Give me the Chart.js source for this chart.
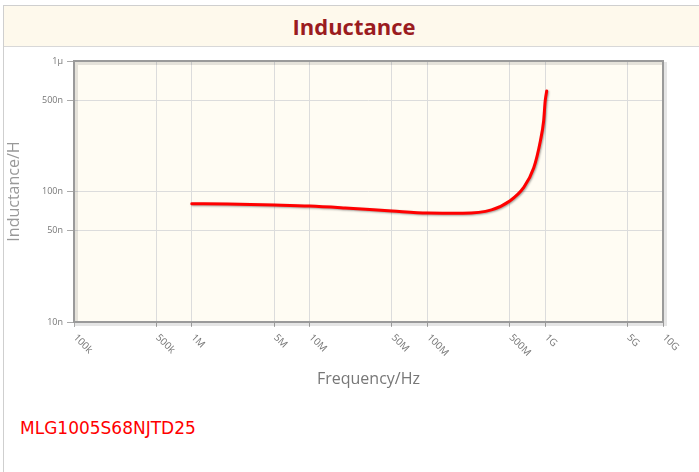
<!DOCTYPE html>
<html>
<head>
<meta charset="utf-8">
<script src="https://cdn.jsdelivr.net/npm/chart.js@4/dist/chart.umd.min.js"></script>
<style>
  body { margin: 0; background: #fff; width: 699px; height: 472px; overflow: hidden; }
  .painel {
    position: absolute; left: 3px; top: 5px; width: 700px; height: 470px;
    border-left: 1px solid #cfcfcf; border-top: 1px solid #cfcfcf;
  }
  .cabecalho {
    height: 40px; background: #fef9ec; border-bottom: 1px solid #d8d8d8;
    text-align: center; font: bold 22px "Open Sans", sans-serif; color: #9b1c1f;
    line-height: 40px;
  }
  #grafico { position: absolute; left: 1px; top: 43px; }
  .legenda {
    position: absolute; left: 16px; top: 412px;
    font: 17px "DejaVu Sans", sans-serif; color: #ff0000;
  }
</style>
</head>
<body>
<div class="painel">
  <div class="cabecalho">Inductance</div>
  <canvas id="grafico" width="695" height="352"></canvas>
  <div class="legenda">MLG1005S68NJTD25</div>
</div>
<script>
// dados (frequencia em Hz, indutancia em nH)
const frequencias = [1e6, 2e6, 5e6, 1e7, 2e7, 5e7, 1e8, 2e8, 3.5e8, 5e8, 6.5e8, 8e8, 9.1e8, 9.7e8, 1e9, 1.03e9];
const indutancias = [80.6, 80.2, 78.8, 77.4, 74.8, 70.9, 68.4, 68.1, 72.3, 84.6, 106, 152, 244, 347, 494, 590];
const nomeSerie = "MLG1005S68NJTD25";

const ticksX = [1e5, 5e5, 1e6, 5e6, 1e7, 5e7, 1e8, 5e8, 1e9, 5e9, 1e10];
const rotulosX = ["100k", "500k", "1M", "5M", "10M", "50M", "100M", "500M", "1G", "5G", "10G"];
const ticksY = [10, 50, 100, 500, 1000];
const rotulosY = ["10n", "50n", "100n", "500n", "1\u03bc"];

// fundo da area do grafico + moldura com sombra
const pluginFundo = {
    id: "fundo",
    beforeDraw(chart) {
        const { ctx, chartArea: a } = chart;
        ctx.save();
        ctx.fillStyle = "#fffcf3";
        ctx.fillRect(a.left, a.top, a.right - a.left, a.bottom - a.top);
        ctx.restore();
    },
    beforeDatasetsDraw(chart) {
        const { ctx, chartArea: a } = chart;
        ctx.save();
        ctx.strokeStyle = "rgba(0,0,0,0.10)";
        ctx.lineWidth = 3;
        ctx.strokeRect(a.left + 2.5, a.top + 2.5, a.right - a.left, a.bottom - a.top);
        ctx.strokeStyle = "#9a9a9a";
        ctx.lineWidth = 2;
        ctx.strokeRect(a.left, a.top, a.right - a.left, a.bottom - a.top);
        ctx.restore();
    }
};

// rotulos do eixo X inclinados para baixo/direita
const pluginRotulosX = {
    id: "rotulosX",
    afterDraw(chart) {
        const { ctx, scales: { x } } = chart;
        ctx.save();
        ctx.font = "10px 'Open Sans', sans-serif";
        ctx.fillStyle = "#777";
        ctx.textAlign = "left";
        ctx.textBaseline = "middle";
        ticksX.forEach((v, i) => {
            const px = x.getPixelForValue(v);
            ctx.save();
            ctx.translate(px + 1, x.top + 14);
            ctx.rotate(Math.PI / 4);
            ctx.fillText(rotulosX[i], 0, 0);
            ctx.restore();
        });
        ctx.restore();
    }
};

// sombra da linha
const pluginSombra = {
    id: "sombra",
    beforeDatasetDraw(chart) {
        const ctx = chart.ctx;
        ctx.save();
        ctx.shadowColor = "rgba(0,0,0,0.35)";
        ctx.shadowBlur = 2;
        ctx.shadowOffsetX = 1;
        ctx.shadowOffsetY = 1;
    },
    afterDatasetDraw(chart) {
        chart.ctx.restore();
    }
};

new Chart(document.getElementById("grafico"), {
    type: "line",
    data: {
        datasets: [{
            label: nomeSerie,
            data: frequencias.map((f, i) => ({ x: f, y: indutancias[i] })),
            borderColor: "#ff0000",
            borderWidth: 3,
            borderCapStyle: "round",
            pointRadius: 0,
            cubicInterpolationMode: "monotone",
            fill: false
        }]
    },
    plugins: [pluginFundo, pluginRotulosX, pluginSombra],
    options: {
        responsive: false,
        animation: false,
        devicePixelRatio: 1,
        layout: { padding: { top: 12, right: 37, left: 0, bottom: 0 } },
        plugins: {
            legend: { display: false },
            tooltip: { enabled: false }
        },
        scales: {
            x: {
                type: "logarithmic",
                min: 1e5,
                max: 1e10,
                afterBuildTicks: s => { s.ticks = ticksX.map(v => ({ value: v })); },
                afterFit: s => { s.height = 79; },
                ticks: { display: false },
                grid: { color: "#dcdcdc", tickColor: "#aaa", tickLength: 5 },
                border: { display: false },
                title: {
                    display: true,
                    text: "Frequency/Hz",
                    color: "#777",
                    font: { family: "'Open Sans', sans-serif", size: 16 },
                    padding: { top: 0, bottom: 12 }
                }
            },
            y: {
                type: "logarithmic",
                min: 10,
                max: 1000,
                afterBuildTicks: s => { s.ticks = ticksY.map(v => ({ value: v })); },
                afterFit: s => { s.width = 69; },
                ticks: {
                    color: "#777",
                    font: { family: "'Open Sans', sans-serif", size: 9 },
                    padding: 4,
                    callback: v => rotulosY[ticksY.indexOf(v)]
                },
                grid: { color: "#dcdcdc", tickColor: "#aaa", tickLength: 7 },
                border: { display: false },
                title: {
                    display: true,
                    text: "Inductance/H",
                    color: "#999",
                    font: { family: "'Open Sans', sans-serif", size: 16 },
                    padding: { top: 0, bottom: 0 }
                }
            }
        }
    }
});
</script>
</body>
</html>
